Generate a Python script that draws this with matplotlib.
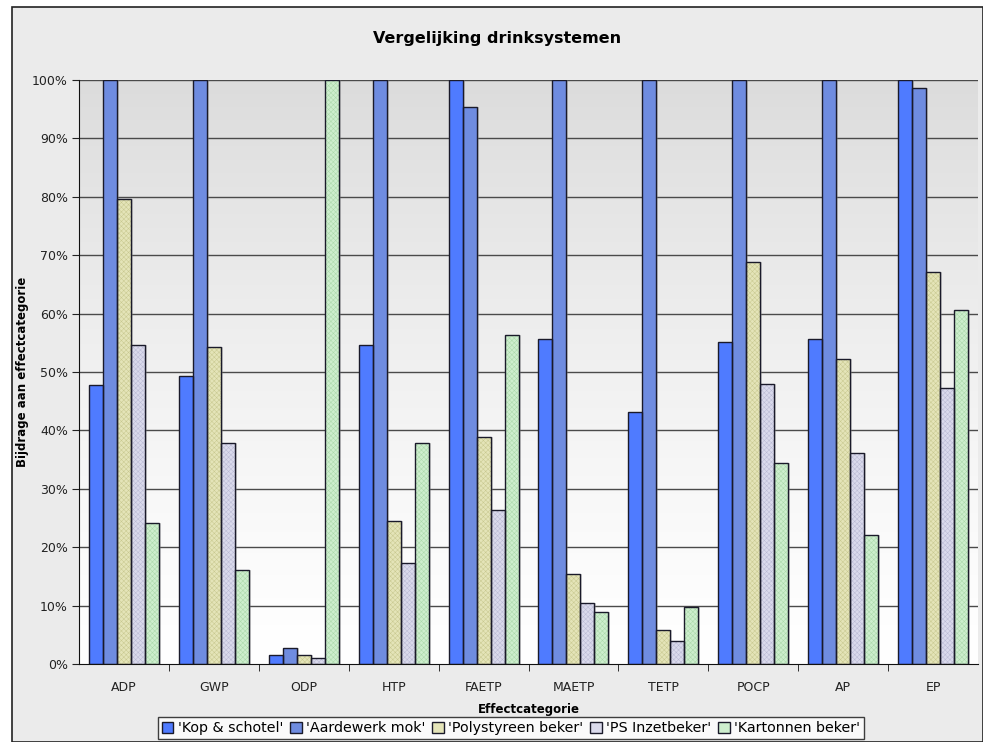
import numpy as np
import matplotlib.pyplot as plt
from matplotlib.patches import Rectangle
from matplotlib.ticker import FuncFormatter, FixedLocator

categories = ["ADP", "GWP", "ODP", "HTP", "FAETP", "MAETP", "TETP", "POCP", "AP", "EP"]
series_names = ["'Kop & schotel'", "'Aardewerk mok'", "'Polystyreen beker'",
                "'PS Inzetbeker'", "'Kartonnen beker'"]
kop_schotel = [47.8, 49.4, 1.5, 54.7, 100.0, 55.6, 43.1, 55.1, 55.6, 100.0]
aardewerk_mok = [100.0, 100.0, 2.7, 100.0, 95.4, 100.0, 100.0, 100.0, 100.0, 98.7]
polystyreen = [79.6, 54.2, 1.5, 24.5, 38.9, 15.4, 5.9, 68.9, 52.3, 67.1]
ps_inzet = [54.6, 37.9, 1.0, 17.3, 26.3, 10.4, 4.0, 47.9, 36.2, 47.2]
kartonnen = [24.1, 16.1, 100.0, 37.9, 56.4, 8.9, 9.8, 34.4, 22.1, 60.6]
series = [kop_schotel, aardewerk_mok, polystyreen, ps_inzet, kartonnen]

colors = ["#4f7bff", "#6f8ce0", "#e4e4b8", "#dadaec", "#cdeecd"]
hatch_colors = [None, None, "#c8c890", "#babad4", "#aad8aa"]

plt.rcParams["hatch.linewidth"] = 0.35

W, H = 983, 742
fig = plt.figure(figsize=(W / 100, H / 100), dpi=100)
fig.patch.set_facecolor("white")
# outer panel
fig.patches.append(Rectangle((12 / W, 0), 1 - 12 / W, 1 - 7 / H, transform=fig.transFigure,
                             facecolor="#ebebeb", edgecolor="#222222", linewidth=1.2, zorder=-5))

ax = fig.add_axes([79 / W, (H - 664) / H, 899 / W, 584 / H])
ax.set_zorder(2)
ax.set_xlim(0, 10)
ax.set_ylim(0, 100)

# vertical gradient background
grad = np.linspace(0, 1, 256).reshape(-1, 1)
top = np.array([0xdc, 0xdc, 0xdc]) / 255
bot = np.array([1.0, 1.0, 1.0])
img = bot + (top - bot) * grad[:, :, None] ** 1.3
ax.imshow(img, extent=[0, 10, 0, 100], origin="lower", aspect="auto", zorder=0)

for yv in range(10, 101, 10):
    ax.axhline(yv, color="#4a4a4a", linewidth=1.0, zorder=1)

bw = 0.1557
x = np.arange(len(categories)) + 0.5
for i, (vals, c) in enumerate(zip(series, colors)):
    pos = x + (i - 2) * bw
    # soft shadow
    ax.bar(pos + 0.022, vals, bw, color="#8a8a8a", alpha=0.35, linewidth=0, zorder=2)
    ax.bar(pos, vals, bw, color=c, linewidth=0, zorder=3)
    if hatch_colors[i]:
        ax.bar(pos, vals, bw, facecolor="none", edgecolor=hatch_colors[i], hatch="xxxxxxx",
               linewidth=0, zorder=4)
    ax.bar(pos, vals, bw, facecolor="none", edgecolor="#1a1a2a", linewidth=1.0, zorder=5)

for s in ["top", "right"]:
    ax.spines[s].set_visible(False)
ax.spines["left"].set_color("#111111")
ax.spines["bottom"].set_color("#111111")
ax.spines["left"].set_zorder(6)
ax.spines["bottom"].set_zorder(6)

ax.yaxis.set_major_locator(FixedLocator(range(0, 101, 10)))
ax.yaxis.set_major_formatter(FuncFormatter(lambda v, p: f"{int(v)}%"))
ax.tick_params(axis="y", length=5, direction="out", labelsize=9, colors="#222222", pad=3)
ax.set_xticks(x)
ax.set_xticklabels(categories)
ax.tick_params(axis="x", length=0, labelsize=9, colors="#222222", pad=12)
ax.set_xticks(np.arange(1, 10), minor=True)
ax.tick_params(axis="x", which="minor", length=5, direction="out", color="#111111")

ax.set_xlabel("Effectcategorie", fontsize=8.5, fontweight="bold", labelpad=7)
ax.set_ylabel("Bijdrage aan effectcategorie", fontsize=8.5, fontweight="bold", labelpad=2)
fig.text(0.5 + 6 / W, 1 - 38 / H, "Vergelijking drinksystemen", ha="center", va="center",
         fontsize=11.5, fontweight="bold")

handles = [Rectangle((0, 0), 1, 1, facecolor=c, edgecolor="#1a1a2a", linewidth=1.0)
           for c in colors]
leg = fig.legend(handles, series_names, loc="center", bbox_to_anchor=(511 / W, 1 - 728 / H),
                 ncol=5, fontsize=10.3, frameon=True, fancybox=False, edgecolor="#111111",
                 handlelength=0.8, handleheight=0.8, handletextpad=0.3, columnspacing=0.5,
                 borderpad=0.25, borderaxespad=0)
leg.get_frame().set_linewidth(1.0)

fig.savefig("out.png", dpi=100, facecolor=fig.get_facecolor())
